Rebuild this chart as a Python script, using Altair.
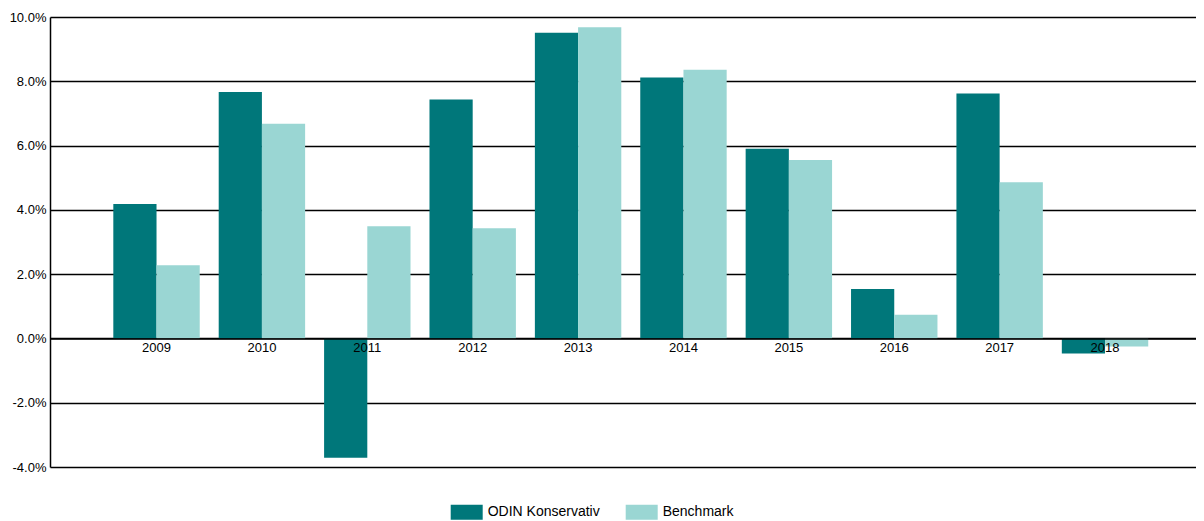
import altair as alt
import pandas as pd

years = ["2009", "2010", "2011", "2012", "2013", "2014", "2015", "2016", "2017", "2018"]
odin = [4.18, 7.67, -3.71, 7.43, 9.51, 8.12, 5.9, 1.54, 7.62, -0.47]
bench = [2.28, 6.68, 3.49, 3.43, 9.68, 8.36, 5.55, 0.74, 4.86, -0.25]
series = ["ODIN Konservativ", "Benchmark"]
colors = ["#00777A", "#9AD6D3"]
y_ticks = [-4, -2, 0, 2, 4, 6, 8, 10]

rows = []
for yr, a, b in zip(years, odin, bench):
    rows.append({"year": yr, "series": series[0], "value": a})
    rows.append({"year": yr, "series": series[1], "value": b})
df = pd.DataFrame(rows)

W, H = 1146, 450
zero_offset = -H * 4 / 14

label_expr = "(datum.value < 0 ? '-' : '') + format(abs(datum.value), '.1f') + '%'"

chart = alt.Chart(df).mark_bar().encode(
    x=alt.X(
        "year:N", sort=years, title=None,
        scale=alt.Scale(paddingInner=0.18, paddingOuter=0.527, align=0.57),
        axis=alt.Axis(orient="bottom", offset=zero_offset, domainColor="#000", domainWidth=1.5,
                      ticks=False, labelAngle=0, labelPadding=3, labelFontSize=13,
                      labelColor="#000", zindex=1, grid=False, labelBaseline="top"),
    ),
    xOffset=alt.XOffset("series:N", sort=series, scale=alt.Scale(paddingInner=0, paddingOuter=0)),
    y=alt.Y(
        "value:Q", stack=None, title=None,
        scale=alt.Scale(domain=[-4, 10], nice=False, zero=False),
        axis=alt.Axis(values=y_ticks, labelExpr=label_expr, grid=True, gridColor="#000",
                      gridWidth=1.5, ticks=False, domain=True, domainColor="#000", domainWidth=1.5,
                      labelPadding=4, labelFontSize=13, labelColor="#000", zindex=0),
    ),
    y2=alt.datum(0),
    color=alt.Color(
        "series:N", sort=series, scale=alt.Scale(domain=series, range=colors),
        legend=alt.Legend(orient="none", direction="horizontal", legendX=400.7, legendY=479,
                          title=None, symbolType="M-1,-0.47H1V0.47H-1Z", symbolSize=1024,
                          symbolStrokeWidth=0, symbolOpacity=1, labelFontSize=14, labelColor="#000",
                          labelOffset=5, columnPadding=25),
    ),
).properties(
    width=W, height=H,
    autosize=alt.AutoSizeParams(type="none"),
    padding={"left": 42, "top": 9, "right": 0, "bottom": 53},
).configure(font="Liberation Sans").configure_view(stroke=None)

chart.save("out.html", embed_options={"renderer": "svg", "actions": False})
